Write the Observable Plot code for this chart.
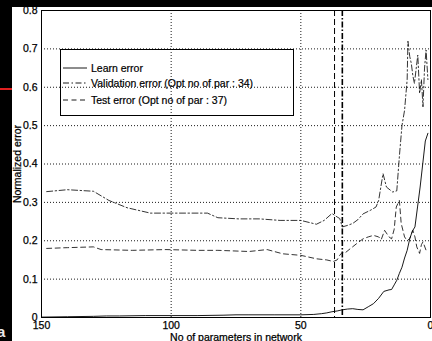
<!DOCTYPE html>
<html>
<head>
<meta charset="utf-8">
<script src="https://cdn.jsdelivr.net/npm/d3@7"></script>
<script src="https://cdn.jsdelivr.net/npm/@observablehq/plot@0.6"></script>
<style>
  html, body { margin:0; padding:0; background:#000; width:432px; height:341px; overflow:hidden; }
  #wrap { position:absolute; left:12px; top:7px; width:420px; height:334px; background:#fff; }
  #wrap svg text { stroke:#000; stroke-width:0.25px; }
  #legend { position:absolute; left:48px; top:42px; width:234px; height:67px; border:1px solid #000; box-sizing:border-box;
            font-family:"Liberation Sans", Arial, sans-serif; font-size:10.5px; color:#000; -webkit-text-stroke:0.2px #000; }
  .row { position:absolute; left:1px; height:14px; display:flex; align-items:center; white-space:nowrap; }
  .row svg { margin-right:4px; }
  #red { position:absolute; left:0; top:88px; width:12px; height:2px; background:#e02020; }
  #aa { position:absolute; left:-3px; top:323px; color:#e8e8e8; font:bold 15px "Liberation Sans", Arial, sans-serif; }
</style>
</head>
<body>
<div id="red"></div>
<div id="aa">a</div>
<div id="wrap"></div>
<script>
// ticks
const xTicks = [150, 100, 50, 0];
const yTicks = [0, 0.1, 0.2, 0.3, 0.4, 0.5, 0.6, 0.7, 0.8];
const yTickLabels = ["0", "0.1", "0.2", "0.3", "0.4", "0.5", "0.6", "0.7", "0.8"];

// Learn error (solid)
const learnX = [150,140,130,125,120,110,100,90,80,75,70,60,50,45,42,40,38,36,34,32,30,28,26,24,22,20,18,16,15,14,13,12,11,10,9,8,7,6,5,4,3,2,1];
const learnY = [0.001,0.002,0.003,0.004,0.004,0.005,0.005,0.005,0.006,0.007,0.007,0.007,0.007,0.008,0.010,0.012,0.015,0.017,0.020,0.022,0.023,0.021,0.020,0.028,0.036,0.050,0.068,0.072,0.073,0.085,0.097,0.115,0.131,0.155,0.175,0.205,0.225,0.236,0.288,0.34,0.40,0.46,0.48];

// Validation error (dash-dot)
const valX = [148,140,130,124,117,108,99,86,82,74,66,58,50,44,41,38,36,35,34,32,30,28,26,23,21,20,18.3,17,14.6,13,12,11,10,9,8.7,8,7.4,6.8,6.2,5.5,4.9,4.2,3.5,2.9,2.3,1.7,1];
const valY = [0.328,0.333,0.329,0.305,0.286,0.272,0.272,0.272,0.26,0.257,0.257,0.253,0.253,0.243,0.253,0.271,0.262,0.258,0.236,0.24,0.245,0.255,0.27,0.28,0.288,0.305,0.375,0.34,0.327,0.33,0.42,0.50,0.54,0.62,0.72,0.68,0.662,0.63,0.61,0.65,0.684,0.584,0.62,0.549,0.65,0.697,0.62];

// Test error (dashed)
const testX = [148,140,130,127,115,102,90,82,70,63,57,50,44,40,37.5,36,35,34,33,31,28,26,24,22,20,19,17.7,16,15,14,13.2,12,11.3,10,9,8,6.8,6,5.3,4.2,3.5,2.9,1.7,1];
const testY = [0.18,0.182,0.184,0.177,0.175,0.177,0.175,0.175,0.172,0.177,0.166,0.162,0.153,0.15,0.146,0.15,0.162,0.17,0.168,0.179,0.195,0.205,0.21,0.214,0.21,0.203,0.227,0.21,0.205,0.23,0.288,0.305,0.245,0.21,0.2,0.206,0.227,0.21,0.184,0.167,0.19,0.197,0.175,0.18];

const optVal = 34, optTest = 37;
const legendLabels = ["Learn error", "Validation error (Opt no of par : 34)", "Test error (Opt no of par : 37)"];
const xLabel = "No of parameters in network";
const yLabel = "Normalized error";

const learn = learnX.map((x, i) => ({x, y: learnY[i]}));
const val = valX.map((x, i) => ({x, y: valY[i]}));
const test = testX.map((x, i) => ({x, y: testY[i]}));

const font = '"Liberation Sans", Arial, sans-serif';
const grid = {stroke: "#000", strokeOpacity: 1, strokeWidth: 0.9, strokeDasharray: "1,2"};

const chart = Plot.plot({
  width: 420, height: 334,
  marginLeft: 29, marginRight: 2, marginTop: 3, marginBottom: 24,
  style: {background: "white", fontFamily: font, fontSize: "10.5px", color: "#000", overflow: "hidden"},
  x: {domain: [150, 0], label: null},
  y: {domain: [0, 0.8], label: null},
  marks: [
    Plot.gridX(xTicks, grid),
    Plot.gridY(yTicks, grid),
    Plot.axisX(xTicks, {tickSize: 0, tickPadding: 4, tickFormat: d => String(d), fontSize: "10.5px"}),
    Plot.axisY(yTicks, {tickSize: 0, tickPadding: 4, tickFormat: d => yTickLabels[yTicks.indexOf(d)], fontSize: "10.5px"}),
    Plot.ruleX([optTest], {stroke: "#000", strokeWidth: 1, strokeDasharray: "6,3"}),
    Plot.ruleX([optVal], {stroke: "#000", strokeWidth: 1.6, strokeDasharray: "6,2,1.5,2"}),
    Plot.line(learn, {x: "x", y: "y", stroke: "#000", strokeWidth: 0.9}),
    Plot.line(val, {x: "x", y: "y", stroke: "#000", strokeWidth: 0.8, strokeDasharray: "6,2.5,1.5,2.5"}),
    Plot.line(test, {x: "x", y: "y", stroke: "#000", strokeWidth: 0.8, strokeDasharray: "5,3.5"}),
    Plot.frame({stroke: "#000", strokeWidth: 1}),
    Plot.text([yLabel], {frameAnchor: "left", dx: -24, rotate: -90, textAnchor: "middle", lineAnchor: "middle", fontSize: "10.5px", fill: "#000"}),
    Plot.text([xLabel], {frameAnchor: "bottom", dy: 20, textAnchor: "middle", lineAnchor: "middle", fontSize: "10.5px", fill: "#000"})
  ]
});
const wrap = document.getElementById("wrap");
wrap.appendChild(chart);

// legend
const leg = document.createElement("div");
leg.id = "legend";
const dashes = [null, "6,2.5,1.5,2.5", "5,3.5"];
const tops = [11, 26, 43];
legendLabels.forEach((lab, i) => {
  const row = document.createElement("div");
  row.className = "row";
  row.style.top = tops[i] + "px";
  row.innerHTML = `<svg width="25" height="6"><line x1="1" x2="25" y1="3" y2="3" stroke="#000" stroke-width="0.9" ${dashes[i] ? `stroke-dasharray="${dashes[i]}"` : ""}/></svg><span>${lab}</span>`;
  leg.appendChild(row);
});
wrap.appendChild(leg);
</script>
</body>
</html>
